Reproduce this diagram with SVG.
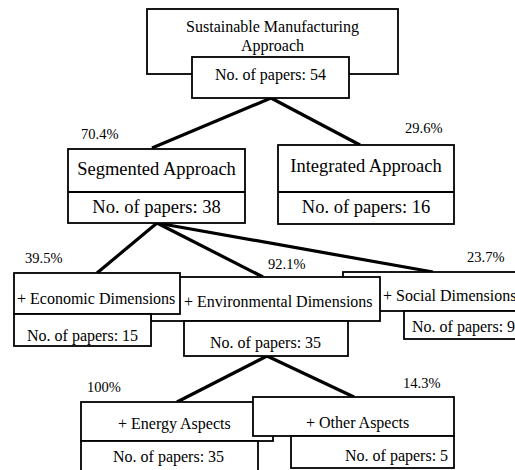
<svg xmlns="http://www.w3.org/2000/svg" width="515" height="470" viewBox="0 0 515 470">
<style>
.b{fill:#fff;stroke:#000;stroke-width:1.8}
.c{stroke:#000;stroke-width:3.2;fill:none;stroke-linecap:butt}
text{font-family:"Liberation Serif","Times New Roman",serif;fill:#000}
.t16{font-size:16px}
.t18{font-size:18.5px}
.p{font-size:14.5px}
.m{text-anchor:middle}
</style>
<rect width="515" height="470" fill="#fff"/>
<g id="connectors">
<line class="c" x1="271" y1="98" x2="152" y2="148"/>
<line class="c" x1="271" y1="98" x2="360" y2="145"/>
<line class="c" x1="157" y1="223" x2="97" y2="273"/>
<line class="c" x1="157" y1="223" x2="263" y2="277"/>
<line class="c" x1="157" y1="223" x2="433" y2="272"/>
<line class="c" x1="267" y1="356" x2="177" y2="402"/>
<line class="c" x1="267" y1="356" x2="354" y2="397"/>
</g>
<g id="labels">
<text class="p" x="81" y="139">70.4%</text>
<text class="p" x="405" y="133">29.6%</text>
<text class="p" x="25" y="263">39.5%</text>
<text class="p" x="268" y="269">92.1%</text>
<text class="p" x="467" y="262">23.7%</text>
<text class="p" x="87" y="392">100%</text>
<text class="p" x="403" y="388">14.3%</text>
</g>
<g id="root">
<rect class="b" x="147" y="9" width="251" height="65"/>
<text class="t16 m" x="272.5" y="32">Sustainable Manufacturing</text>
<text class="t16 m" x="272.5" y="51">Approach</text>
<rect class="b" x="192" y="57" width="157" height="41"/>
<text class="t16 m" x="270.5" y="80">No. of papers: 54</text>
</g>
<g id="segmented">
<rect class="b" x="68" y="149" width="177" height="74"/>
<line x1="68" y1="192" x2="245" y2="192" stroke="#000" stroke-width="1.8"/>
<text class="t18 m" x="156.5" y="175">Segmented Approach</text>
<text class="t18 m" x="156.5" y="213">No. of papers: 38</text>
</g>
<g id="integrated">
<rect class="b" x="278" y="145" width="176" height="79"/>
<line x1="278" y1="192" x2="454" y2="192" stroke="#000" stroke-width="1.8"/>
<text class="t18 m" x="366" y="172">Integrated Approach</text>
<text class="t18 m" x="366" y="213">No. of papers: 16</text>
</g>
<g id="social">
<rect class="b" x="343" y="272" width="200" height="39"/>
<text class="t16" x="383" y="301">+ Social Dimensions</text>
<rect class="b" x="404" y="311" width="150" height="28"/>
<text class="t16" x="412" y="332">No. of papers: 9</text>
</g>
<g id="environmental">
<rect class="b" x="151" y="277" width="229" height="44"/>
<text class="t16" x="184" y="307">+ Environmental Dimensions</text>
<rect class="b" x="184" y="321" width="164" height="35"/>
<text class="t16" x="210" y="348">No. of papers: 35</text>
</g>
<g id="economic">
<rect class="b" x="14" y="273" width="166" height="41"/>
<text class="t16" x="17" y="304">+ Economic Dimensions</text>
<rect class="b" x="14" y="314" width="137" height="32"/>
<text class="t16" x="27" y="341">No. of papers: 15</text>
</g>
<g id="energy">
<rect class="b" x="81" y="402" width="192" height="39"/>
<text class="t16" x="118" y="429">+ Energy Aspects</text>
<rect class="b" x="81" y="441" width="177" height="40"/>
<text class="t16" x="113" y="462">No. of papers: 35</text>
</g>
<g id="other">
<rect class="b" x="253" y="397" width="201" height="39"/>
<text class="t16" x="306" y="428">+ Other Aspects</text>
<rect class="b" x="291" y="436" width="163" height="32"/>
<text class="t16" x="345" y="461">No. of papers: 5</text>
</g>
</svg>
